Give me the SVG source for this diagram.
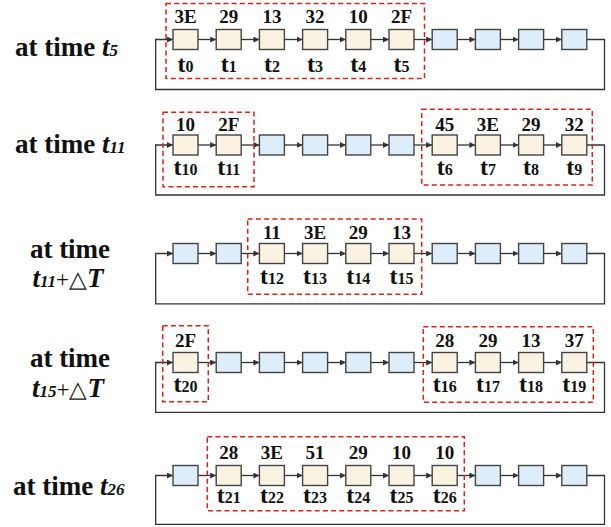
<svg xmlns="http://www.w3.org/2000/svg" width="611" height="527" viewBox="0 0 611 527">
  <defs>
    <marker id="arrow" markerUnits="userSpaceOnUse" markerWidth="7" markerHeight="6" refX="6" refY="3" orient="auto">
      <path d="M0,0 L6,3 L0,6 z" fill="#333"/>
    </marker>
    <style>
      .b { fill: #FBF3E1; stroke: #444; stroke-width: 1.4; }
      .l { fill: #DDEEFA; stroke: #444; stroke-width: 1.4; }
      .c { fill: none; stroke: #333; stroke-width: 1.3; marker-end: url(#arrow); }
      .d { fill: none; stroke: #D8221C; stroke-width: 1.5; stroke-dasharray: 5 3.2; }
      text { font-family: "Liberation Serif", "Times New Roman", serif; font-weight: bold; fill: #111; }
      .v { font-size: 19px; text-anchor: middle; }
      .t { font-size: 24px; text-anchor: middle; }
      .t tspan { font-size: 16px; }
      .h { font-size: 27px; }
      .h .i { font-style: italic; }
      .h .s { font-size: 17px; font-style: italic; }
      .h .o { font-weight: normal; font-size: 23px; }
    </style>
  </defs>

  <!-- row labels -->
  <g id="label-t5"><text class="h" x="15" y="56">at time <tspan class="i">t</tspan><tspan class="s">5</tspan></text></g>
  <g id="label-t11"><text class="h" x="15" y="153">at time <tspan class="i">t</tspan><tspan class="s">11</tspan></text></g>
  <g id="label-t11dT">
    <text class="h" x="70" y="258" text-anchor="middle">at time</text>
    <text class="h" x="68" y="287" text-anchor="middle"><tspan class="i">t</tspan><tspan class="s">11</tspan><tspan class="o">+△</tspan><tspan class="i">T</tspan></text>
  </g>
  <g id="label-t15dT">
    <text class="h" x="70" y="367" text-anchor="middle">at time</text>
    <text class="h" x="68" y="397" text-anchor="middle"><tspan class="i">t</tspan><tspan class="s">15</tspan><tspan class="o">+△</tspan><tspan class="i">T</tspan></text>
  </g>
  <g id="label-t26"><text class="h" x="13" y="495">at time <tspan class="i">t</tspan><tspan class="s">26</tspan></text></g>

  <!-- connectors: chain links and wrap-around loops -->
  <g id="connectors">
    <!-- row 1, y = 39.5 -->
    <line class="c" x1="198" y1="39.5" x2="216.2" y2="39.5"/>
    <line class="c" x1="241.2" y1="39.5" x2="259.4" y2="39.5"/>
    <line class="c" x1="284.4" y1="39.5" x2="302.6" y2="39.5"/>
    <line class="c" x1="327.6" y1="39.5" x2="345.8" y2="39.5"/>
    <line class="c" x1="370.8" y1="39.5" x2="389" y2="39.5"/>
    <line class="c" x1="414" y1="39.5" x2="432.2" y2="39.5"/>
    <line class="c" x1="457.2" y1="39.5" x2="475.4" y2="39.5"/>
    <line class="c" x1="500.4" y1="39.5" x2="518.6" y2="39.5"/>
    <line class="c" x1="543.6" y1="39.5" x2="561.8" y2="39.5"/>
    <path class="c" d="M586.8,39.5 H604.5 V89.5 H155.7 V39.5 H173"/>
    <!-- row 2, y = 145 -->
    <line class="c" x1="198" y1="145" x2="216.2" y2="145"/>
    <line class="c" x1="241.2" y1="145" x2="259.4" y2="145"/>
    <line class="c" x1="284.4" y1="145" x2="302.6" y2="145"/>
    <line class="c" x1="327.6" y1="145" x2="345.8" y2="145"/>
    <line class="c" x1="370.8" y1="145" x2="389" y2="145"/>
    <line class="c" x1="414" y1="145" x2="432.2" y2="145"/>
    <line class="c" x1="457.2" y1="145" x2="475.4" y2="145"/>
    <line class="c" x1="500.4" y1="145" x2="518.6" y2="145"/>
    <line class="c" x1="543.6" y1="145" x2="561.8" y2="145"/>
    <path class="c" d="M586.8,145 H604.5 V195 H155.7 V145 H173"/>
    <!-- row 3, y = 253.5 -->
    <line class="c" x1="198" y1="253.5" x2="216.2" y2="253.5"/>
    <line class="c" x1="241.2" y1="253.5" x2="259.4" y2="253.5"/>
    <line class="c" x1="284.4" y1="253.5" x2="302.6" y2="253.5"/>
    <line class="c" x1="327.6" y1="253.5" x2="345.8" y2="253.5"/>
    <line class="c" x1="370.8" y1="253.5" x2="389" y2="253.5"/>
    <line class="c" x1="414" y1="253.5" x2="432.2" y2="253.5"/>
    <line class="c" x1="457.2" y1="253.5" x2="475.4" y2="253.5"/>
    <line class="c" x1="500.4" y1="253.5" x2="518.6" y2="253.5"/>
    <line class="c" x1="543.6" y1="253.5" x2="561.8" y2="253.5"/>
    <path class="c" d="M586.8,253.5 H604.5 V303.8 H155.7 V253.5 H173"/>
    <!-- row 4, y = 362.5 -->
    <line class="c" x1="198" y1="362.5" x2="216.2" y2="362.5"/>
    <line class="c" x1="241.2" y1="362.5" x2="259.4" y2="362.5"/>
    <line class="c" x1="284.4" y1="362.5" x2="302.6" y2="362.5"/>
    <line class="c" x1="327.6" y1="362.5" x2="345.8" y2="362.5"/>
    <line class="c" x1="370.8" y1="362.5" x2="389" y2="362.5"/>
    <line class="c" x1="414" y1="362.5" x2="432.2" y2="362.5"/>
    <line class="c" x1="457.2" y1="362.5" x2="475.4" y2="362.5"/>
    <line class="c" x1="500.4" y1="362.5" x2="518.6" y2="362.5"/>
    <line class="c" x1="543.6" y1="362.5" x2="561.8" y2="362.5"/>
    <path class="c" d="M586.8,362.5 H604.5 V412.3 H155.7 V362.5 H173"/>
    <!-- row 5, y = 475.5 -->
    <line class="c" x1="198" y1="475.5" x2="216.2" y2="475.5"/>
    <line class="c" x1="241.2" y1="475.5" x2="259.4" y2="475.5"/>
    <line class="c" x1="284.4" y1="475.5" x2="302.6" y2="475.5"/>
    <line class="c" x1="327.6" y1="475.5" x2="345.8" y2="475.5"/>
    <line class="c" x1="370.8" y1="475.5" x2="389" y2="475.5"/>
    <line class="c" x1="414" y1="475.5" x2="432.2" y2="475.5"/>
    <line class="c" x1="457.2" y1="475.5" x2="475.4" y2="475.5"/>
    <line class="c" x1="500.4" y1="475.5" x2="518.6" y2="475.5"/>
    <line class="c" x1="543.6" y1="475.5" x2="561.8" y2="475.5"/>
    <path class="c" d="M586.8,475.5 H604.5 V524.3 H155.7 V475.5 H173"/>
  </g>

  <!-- row 1 nodes -->
  <g id="r1n0"><rect class="b" x="173" y="29.5" width="25" height="20"/><text class="v" x="185.5" y="22.7">3E</text><text class="t" x="185.5" y="71.7">t<tspan>0</tspan></text></g>
  <g id="r1n1"><rect class="b" x="216.2" y="29.5" width="25" height="20"/><text class="v" x="228.7" y="22.7">29</text><text class="t" x="228.7" y="71.7">t<tspan>1</tspan></text></g>
  <g id="r1n2"><rect class="b" x="259.4" y="29.5" width="25" height="20"/><text class="v" x="271.9" y="22.7">13</text><text class="t" x="271.9" y="71.7">t<tspan>2</tspan></text></g>
  <g id="r1n3"><rect class="b" x="302.6" y="29.5" width="25" height="20"/><text class="v" x="315.1" y="22.7">32</text><text class="t" x="315.1" y="71.7">t<tspan>3</tspan></text></g>
  <g id="r1n4"><rect class="b" x="345.8" y="29.5" width="25" height="20"/><text class="v" x="358.3" y="22.7">10</text><text class="t" x="358.3" y="71.7">t<tspan>4</tspan></text></g>
  <g id="r1n5"><rect class="b" x="389" y="29.5" width="25" height="20"/><text class="v" x="401.5" y="22.7">2F</text><text class="t" x="401.5" y="71.7">t<tspan>5</tspan></text></g>
  <g id="r1n6"><rect class="l" x="432.2" y="29.5" width="25" height="20"/></g>
  <g id="r1n7"><rect class="l" x="475.4" y="29.5" width="25" height="20"/></g>
  <g id="r1n8"><rect class="l" x="518.6" y="29.5" width="25" height="20"/></g>
  <g id="r1n9"><rect class="l" x="561.8" y="29.5" width="25" height="20"/></g>
  <rect class="d" x="166" y="3.5" width="258.5" height="75"/>

  <!-- row 2 nodes -->
  <g id="r2n0"><rect class="b" x="173" y="135" width="25" height="20"/><text class="v" x="185.5" y="130.7">10</text><text class="t" x="185.5" y="175">t<tspan>10</tspan></text></g>
  <g id="r2n1"><rect class="b" x="216.2" y="135" width="25" height="20"/><text class="v" x="228.7" y="130.7">2F</text><text class="t" x="228.7" y="175">t<tspan>11</tspan></text></g>
  <g id="r2n2"><rect class="l" x="259.4" y="135" width="25" height="20"/></g>
  <g id="r2n3"><rect class="l" x="302.6" y="135" width="25" height="20"/></g>
  <g id="r2n4"><rect class="l" x="345.8" y="135" width="25" height="20"/></g>
  <g id="r2n5"><rect class="l" x="389" y="135" width="25" height="20"/></g>
  <g id="r2n6"><rect class="b" x="432.2" y="135" width="25" height="20"/><text class="v" x="444.7" y="130.7">45</text><text class="t" x="444.7" y="175">t<tspan>6</tspan></text></g>
  <g id="r2n7"><rect class="b" x="475.4" y="135" width="25" height="20"/><text class="v" x="487.9" y="130.7">3E</text><text class="t" x="487.9" y="175">t<tspan>7</tspan></text></g>
  <g id="r2n8"><rect class="b" x="518.6" y="135" width="25" height="20"/><text class="v" x="531.1" y="130.7">29</text><text class="t" x="531.1" y="175">t<tspan>8</tspan></text></g>
  <g id="r2n9"><rect class="b" x="561.8" y="135" width="25" height="20"/><text class="v" x="574.3" y="130.7">32</text><text class="t" x="574.3" y="175">t<tspan>9</tspan></text></g>
  <rect class="d" x="163" y="112.3" width="91" height="74.4"/>
  <rect class="d" x="421.7" y="109.3" width="170.6" height="75.7"/>

  <!-- row 3 nodes -->
  <g id="r3n0"><rect class="l" x="173" y="243.5" width="25" height="20"/></g>
  <g id="r3n1"><rect class="l" x="216.2" y="243.5" width="25" height="20"/></g>
  <g id="r3n2"><rect class="b" x="259.4" y="243.5" width="25" height="20"/><text class="v" x="271.9" y="238.5">11</text><text class="t" x="271.9" y="284">t<tspan>12</tspan></text></g>
  <g id="r3n3"><rect class="b" x="302.6" y="243.5" width="25" height="20"/><text class="v" x="315.1" y="238.5">3E</text><text class="t" x="315.1" y="284">t<tspan>13</tspan></text></g>
  <g id="r3n4"><rect class="b" x="345.8" y="243.5" width="25" height="20"/><text class="v" x="358.3" y="238.5">29</text><text class="t" x="358.3" y="284">t<tspan>14</tspan></text></g>
  <g id="r3n5"><rect class="b" x="389" y="243.5" width="25" height="20"/><text class="v" x="401.5" y="238.5">13</text><text class="t" x="401.5" y="284">t<tspan>15</tspan></text></g>
  <g id="r3n6"><rect class="l" x="432.2" y="243.5" width="25" height="20"/></g>
  <g id="r3n7"><rect class="l" x="475.4" y="243.5" width="25" height="20"/></g>
  <g id="r3n8"><rect class="l" x="518.6" y="243.5" width="25" height="20"/></g>
  <g id="r3n9"><rect class="l" x="561.8" y="243.5" width="25" height="20"/></g>
  <rect class="d" x="247.7" y="219" width="174" height="75.3"/>

  <!-- row 4 nodes -->
  <g id="r4n0"><rect class="b" x="173" y="352.5" width="25" height="20"/><text class="v" x="185.5" y="346.7">2F</text><text class="t" x="185.5" y="392">t<tspan>20</tspan></text></g>
  <g id="r4n1"><rect class="l" x="216.2" y="352.5" width="25" height="20"/></g>
  <g id="r4n2"><rect class="l" x="259.4" y="352.5" width="25" height="20"/></g>
  <g id="r4n3"><rect class="l" x="302.6" y="352.5" width="25" height="20"/></g>
  <g id="r4n4"><rect class="l" x="345.8" y="352.5" width="25" height="20"/></g>
  <g id="r4n5"><rect class="l" x="389" y="352.5" width="25" height="20"/></g>
  <g id="r4n6"><rect class="b" x="432.2" y="352.5" width="25" height="20"/><text class="v" x="444.7" y="346.7">28</text><text class="t" x="444.7" y="392">t<tspan>16</tspan></text></g>
  <g id="r4n7"><rect class="b" x="475.4" y="352.5" width="25" height="20"/><text class="v" x="487.9" y="346.7">29</text><text class="t" x="487.9" y="392">t<tspan>17</tspan></text></g>
  <g id="r4n8"><rect class="b" x="518.6" y="352.5" width="25" height="20"/><text class="v" x="531.1" y="346.7">13</text><text class="t" x="531.1" y="392">t<tspan>18</tspan></text></g>
  <g id="r4n9"><rect class="b" x="561.8" y="352.5" width="25" height="20"/><text class="v" x="574.3" y="346.7">37</text><text class="t" x="574.3" y="392">t<tspan>19</tspan></text></g>
  <rect class="d" x="162.7" y="325.7" width="45.6" height="76"/>
  <rect class="d" x="423.3" y="326.7" width="170" height="75.6"/>

  <!-- row 5 nodes -->
  <g id="r5n0"><rect class="l" x="173" y="465.5" width="25" height="20"/></g>
  <g id="r5n1"><rect class="b" x="216.2" y="465.5" width="25" height="20"/><text class="v" x="228.7" y="458.5">28</text><text class="t" x="228.7" y="502.5">t<tspan>21</tspan></text></g>
  <g id="r5n2"><rect class="b" x="259.4" y="465.5" width="25" height="20"/><text class="v" x="271.9" y="458.5">3E</text><text class="t" x="271.9" y="502.5">t<tspan>22</tspan></text></g>
  <g id="r5n3"><rect class="b" x="302.6" y="465.5" width="25" height="20"/><text class="v" x="315.1" y="458.5">51</text><text class="t" x="315.1" y="502.5">t<tspan>23</tspan></text></g>
  <g id="r5n4"><rect class="b" x="345.8" y="465.5" width="25" height="20"/><text class="v" x="358.3" y="458.5">29</text><text class="t" x="358.3" y="502.5">t<tspan>24</tspan></text></g>
  <g id="r5n5"><rect class="b" x="389" y="465.5" width="25" height="20"/><text class="v" x="401.5" y="458.5">10</text><text class="t" x="401.5" y="502.5">t<tspan>25</tspan></text></g>
  <g id="r5n6"><rect class="b" x="432.2" y="465.5" width="25" height="20"/><text class="v" x="444.7" y="458.5">10</text><text class="t" x="444.7" y="502.5">t<tspan>26</tspan></text></g>
  <g id="r5n7"><rect class="l" x="475.4" y="465.5" width="25" height="20"/></g>
  <g id="r5n8"><rect class="l" x="518.6" y="465.5" width="25" height="20"/></g>
  <g id="r5n9"><rect class="l" x="561.8" y="465.5" width="25" height="20"/></g>
  <rect class="d" x="207.3" y="436.7" width="257" height="74"/>
</svg>
